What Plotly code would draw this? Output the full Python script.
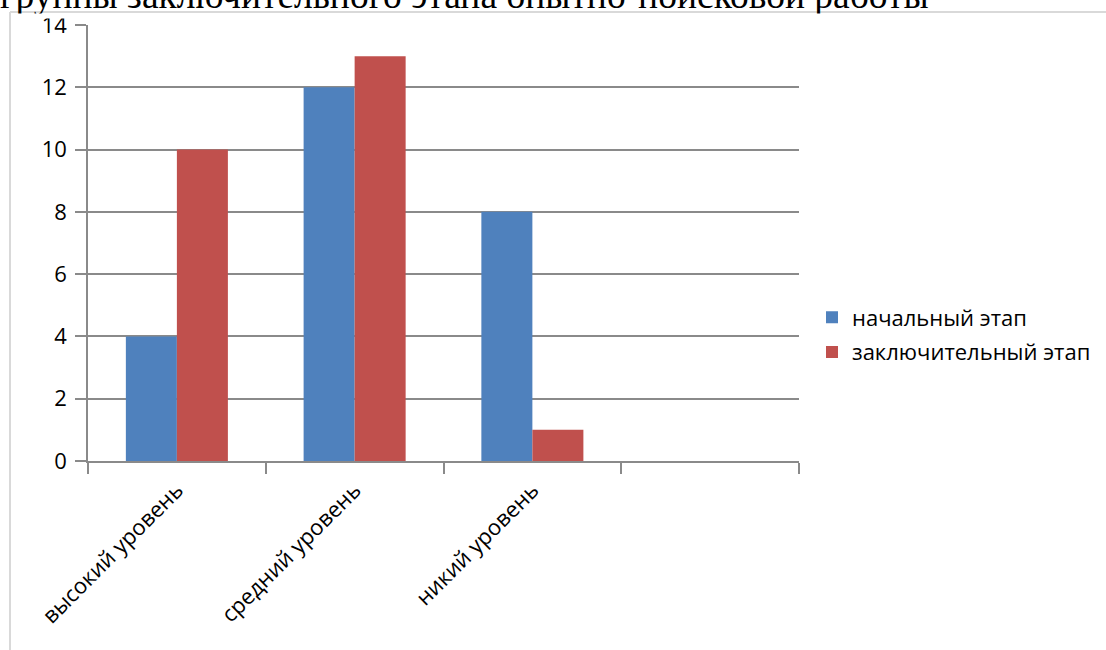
import plotly.graph_objects as go

categories = ["высокий уровень", "средний уровень", "никий уровень", " "]
series_names = ["начальный этап", "заключительный этап"]
initial_values = [4, 12, 8, None]
final_values = [10, 13, 1, None]
y_ticks = [0, 2, 4, 6, 8, 10, 12, 14]
caption = "группы заключительного этапа опытно-поисковой работы"

W, H = 1106, 650
L, R, T, B = 88, W - 799, 25, H - 461
pw, ph = W - L - R, H - T - B
FRAME_X, FRAME_Y = 10, 12


def px_x(p):
    return (p - L) / pw


def px_y(p):
    return (H - B - p) / ph


fig = go.Figure()
fig.add_trace(go.Bar(x=categories, y=initial_values, name=series_names[0],
                     marker=dict(color="#4F81BD", line=dict(width=0)),
                     legendgroup="a"))
fig.add_trace(go.Bar(x=categories, y=final_values, name=series_names[1],
                     marker=dict(color="#C0504D", line=dict(width=0)),
                     legendgroup="b"))

axis_color = "#8A8A8A"
tick_font = dict(family="Open Sans", size=22, color="#000000")

fig.update_layout(
    width=W, height=H,
    margin=dict(l=L, r=R, t=T, b=B, pad=0, autoexpand=False),
    paper_bgcolor="white", plot_bgcolor="white",
    barmode="group", bargap=0.426, bargroupgap=0,
    showlegend=True,
    legend=dict(x=px_x(812), y=px_y(335), xanchor="left", yanchor="middle",
                font=dict(family="Open Sans", size=22, color="#000000"),
                traceorder="grouped", tracegroupgap=3,
                bgcolor="rgba(0,0,0,0)"),
    xaxis=dict(type="category", categoryorder="array", categoryarray=categories,
               range=[-0.5, 3.5], tickson="boundaries", ticks="outside",
               ticklen=11, tickwidth=1.5, tickcolor=axis_color,
               showline=True, linecolor=axis_color, linewidth=1.5,
               showgrid=False, tickangle=-45, tickfont=tick_font,
               ticklabelstandoff=6, automargin=False),
    yaxis=dict(range=[0, 14], tickvals=y_ticks, ticks="outside",
               ticklen=11, tickwidth=1.5, tickcolor=axis_color,
               showline=True, linecolor=axis_color, linewidth=1.5,
               showgrid=True, gridcolor=axis_color, gridwidth=1.5,
               zeroline=False, tickfont=tick_font, ticklabelstandoff=4,
               automargin=False),
    font=dict(family="Open Sans"),
)

# cut-off document text above the chart
fig.add_annotation(text=caption, xref="paper", yref="paper",
                   x=px_x(-2), y=px_y(18.5), xanchor="left", yanchor="bottom",
                   showarrow=False,
                   font=dict(family="Liberation Serif", size=37.5, color="#000000"))
# the chart object covers the lower part of that text
fig.add_annotation(text=" ", xref="paper", yref="paper",
                   x=px_x(FRAME_X + 1), y=px_y(FRAME_Y + 1),
                   xanchor="left", yanchor="top", showarrow=False,
                   width=W, height=2, bgcolor="white", borderpad=1,
                   font=dict(size=2))

# chart frame (light border of the embedded chart object)
frame_color = "#D9D9D9"
fig.add_shape(type="line", xref="paper", yref="paper",
              x0=px_x(FRAME_X), x1=px_x(W + 5), y0=px_y(FRAME_Y), y1=px_y(FRAME_Y),
              line=dict(color=frame_color, width=2))
fig.add_shape(type="line", xref="paper", yref="paper",
              x0=px_x(FRAME_X), x1=px_x(FRAME_X), y0=px_y(FRAME_Y), y1=px_y(H + 5),
              line=dict(color=frame_color, width=2))

fig.write_html("out.html", config={"displayModeBar": False},
               post_script="document.body.style.margin='0';")
